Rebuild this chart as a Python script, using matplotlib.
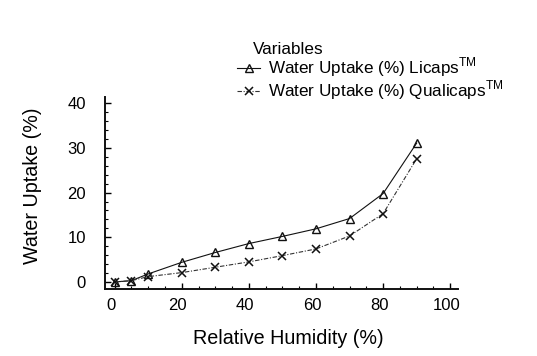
import matplotlib
matplotlib.use("Agg")
import matplotlib.pyplot as plt
import matplotlib.transforms as mtransforms

plt.rcParams['font.family'] = ['Liberation Sans', 'DejaVu Sans']
plt.rcParams['mathtext.fontset'] = 'custom'
plt.rcParams['mathtext.rm'] = 'Liberation Sans'

# relative humidity (%) and water uptake (%)
humedad = [0, 5, 10, 20, 30, 40, 50, 60, 70, 80, 90]
licaps = [0.0, 0.3, 1.8, 4.4, 6.6, 8.6, 10.2, 11.9, 14.2, 19.8, 31.1]
qualicaps = [0.0, 0.3, 1.2, 2.1, 3.3, 4.5, 5.9, 7.4, 10.3, 15.3, 27.6]

xticks = [0, 20, 40, 60, 80, 100]
yticks = [0, 10, 20, 30, 40]

W, H = 537, 356
fig = plt.figure(figsize=(W / 100, H / 100), dpi=100)
ax = fig.add_axes([104.7 / W, 1 - 289 / H, (458 - 104.7) / W, (289 - 97) / H])

ax.plot(humedad, licaps, "-", color="#111111", lw=0.8, marker="^", ms=6,
        mfc="none", mec="#111111", mew=1.0,
        label=r"Water Uptake (%) Licaps$^{\mathrm{TM}}$")
ax.plot(humedad, qualicaps, color="#333333", lw=0.8, ls=(0, (4, 1.5, 1, 1.5)),
        marker="x", ms=6, mec="#111111", mew=1.1,
        label=r"Water Uptake (%) Qualicaps$^{\mathrm{TM}}$")

ax.set_xlim(-2.95, 102.3)
ax.set_ylim(-1.57, 41.4)
ax.set_xticks(xticks)
ax.set_yticks(yticks)
ax.set_xticks(range(0, 101, 5), minor=True)
ax.set_yticks(range(0, 41, 2), minor=True)

for s in ["top", "right"]:
    ax.spines[s].set_visible(False)
for s in ["left", "bottom"]:
    ax.spines[s].set_linewidth(1.4)
    ax.spines[s].set_color("#111111")

ax.tick_params(which="major", direction="in", length=4.5, width=1.0, labelsize=12)
ax.tick_params(which="minor", direction="in", length=2.2, width=0.8)
ax.tick_params(axis="y", pad=13.5)
ax.tick_params(axis="x", pad=6.5)

# labels sit a bit left of their ticks in the original
off = mtransforms.ScaledTranslation(-4 / 100, 0, fig.dpi_scale_trans)
for lab in ax.get_xticklabels():
    lab.set_transform(lab.get_transform() + off)

fig.text(288 / W, 1 - 338 / H, "Relative Humidity (%)", fontsize=14.2,
         ha="center", va="center")
fig.text(33 / W, 1 - 186 / H, "Water Uptake (%)", fontsize=14.2,
         ha="center", va="center", rotation=90)

fig.text(253 / W, 1 - 49 / H, "Variables", fontsize=12.3, ha="left", va="center")
fig.legend(loc="center left", bbox_to_anchor=(237 / W, 1 - 79 / H),
           frameon=False, fontsize=12.3, borderpad=0, borderaxespad=0,
           handlelength=1.35, handletextpad=0.47, labelspacing=-0.05)

fig.savefig("out.png", dpi=100)
